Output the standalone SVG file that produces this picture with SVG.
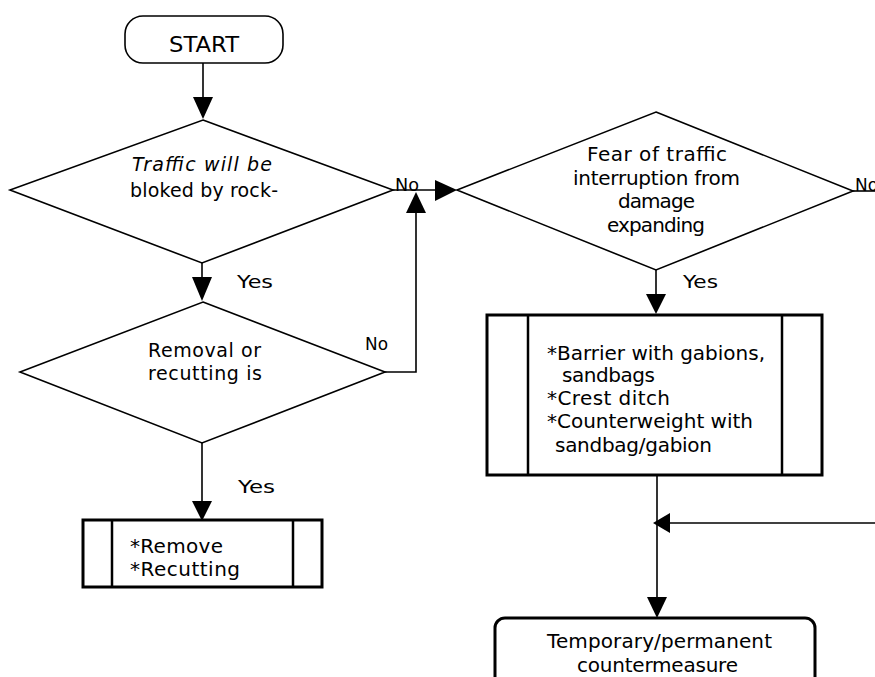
<svg xmlns="http://www.w3.org/2000/svg" width="875" height="677" viewBox="0 0 875 677">
<style>
.t{font-family:"DejaVu Sans","Liberation Sans",sans-serif;font-size:20px;fill:#000}
.s{font-size:17px}
.d{font-size:19px}
.ln{stroke:#000;stroke-width:1.6;fill:none}
.sh{stroke:#000;stroke-width:1.6;fill:#fff}
.bx{stroke:#000;stroke-width:3;fill:#fff}
.in{stroke:#000;stroke-width:2.5}
.ah{fill:#000}
</style>
<rect width="875" height="677" fill="#fff"/>
<g id="start">
<rect class="sh" x="125" y="16" width="158" height="47" rx="18"/>
<text class="t" style="font-size:22px" x="169" y="52" textLength="70" lengthAdjust="spacingAndGlyphs">START</text>
</g>
<g id="d-traffic">
<polygon class="sh" points="203,120 393,190 202,263 10,190"/>
<text class="t d" font-style="italic" x="132" y="171" textLength="140" lengthAdjust="spacing">Traffic will be</text>
<text class="t d" x="130" y="197" textLength="148" lengthAdjust="spacing">bloked by rock-</text>
</g>
<g id="d-removal">
<polygon class="sh" points="203,302 385,372 202,443 20,372"/>
<text class="t d" x="148" y="357" textLength="113" lengthAdjust="spacing">Removal or</text>
<text class="t d" x="148" y="380" textLength="114" lengthAdjust="spacing">recutting is</text>
</g>
<g id="d-fear">
<polygon class="sh" points="656,112 853,191 656,270 457,190"/>
<text class="t" x="587" y="161" textLength="140" lengthAdjust="spacing">Fear of traffic</text>
<text class="t" x="573" y="185" textLength="167" lengthAdjust="spacing">interruption from</text>
<text class="t" x="618" y="208" textLength="77" lengthAdjust="spacing">damage</text>
<text class="t" x="607" y="232" textLength="98" lengthAdjust="spacing">expanding</text>
</g>
<g id="p-remove">
<rect class="bx" x="83" y="520" width="239" height="67"/>
<line class="in" x1="112" y1="520" x2="112" y2="587"/>
<line class="in" x1="293" y1="520" x2="293" y2="587"/>
<text class="t" x="130" y="553" textLength="93" lengthAdjust="spacing">*Remove</text>
<text class="t" x="130" y="576" textLength="110" lengthAdjust="spacing">*Recutting</text>
</g>
<g id="p-barrier">
<rect class="bx" x="487" y="315" width="335" height="160"/>
<line class="in" x1="528" y1="315" x2="528" y2="475"/>
<line class="in" x1="782" y1="315" x2="782" y2="475"/>
<text class="t" x="547" y="360" textLength="218" lengthAdjust="spacing">*Barrier with gabions,</text>
<text class="t" x="562" y="382" textLength="93" lengthAdjust="spacing">sandbags</text>
<text class="t" x="547" y="405" textLength="123" lengthAdjust="spacing">*Crest ditch</text>
<text class="t" x="547" y="428" textLength="206" lengthAdjust="spacing">*Counterweight with</text>
<text class="t" x="555" y="452" textLength="157" lengthAdjust="spacing">sandbag/gabion</text>
</g>
<g id="end">
<rect class="bx" x="495" y="618" width="320" height="80" rx="10"/>
<text class="t" x="547" y="648" textLength="225" lengthAdjust="spacing">Temporary/permanent</text>
<text class="t" x="577" y="672" textLength="161" lengthAdjust="spacing">countermeasure</text>
</g>
<g id="connectors">
<line class="ln" x1="203" y1="63" x2="203" y2="100"/>
<polygon class="ah" points="193,97 213,97 203,119"/>
<line class="ln" x1="202" y1="263" x2="202" y2="280"/>
<polygon class="ah" points="192,277 212,277 202,301"/>
<line class="ln" x1="393" y1="190" x2="437" y2="190"/>
<polygon class="ah" points="435,180 435,201 457,190"/>
<polyline class="ln" points="385,372 416,372 416,210"/>
<polygon class="ah" points="406,213 426,213 416,192"/>
<line class="ln" x1="202" y1="443" x2="202" y2="503"/>
<polygon class="ah" points="192,501 212,501 202,521"/>
<line class="ln" x1="853" y1="191" x2="875" y2="191"/>
<line class="ln" x1="656" y1="270" x2="656" y2="296"/>
<polygon class="ah" points="646,294 666,294 656,314"/>
<line class="ln" x1="657" y1="475" x2="657" y2="600"/>
<polygon class="ah" points="647,597 667,597 657,618"/>
<line class="ln" x1="875" y1="523" x2="668" y2="523"/>
<polygon class="ah" points="670,513 670,533 653,523"/>
<text class="t s" x="395" y="191" textLength="24" lengthAdjust="spacingAndGlyphs">No</text>
<text class="t s" x="237" y="288" textLength="36" lengthAdjust="spacingAndGlyphs">Yes</text>
<text class="t s" x="365" y="350" textLength="23" lengthAdjust="spacingAndGlyphs">No</text>
<text class="t s" x="238" y="493" textLength="37" lengthAdjust="spacingAndGlyphs">Yes</text>
<text class="t s" x="683" y="288" textLength="35" lengthAdjust="spacingAndGlyphs">Yes</text>
<text class="t s" x="855" y="191">No</text>
</g>
</svg>
